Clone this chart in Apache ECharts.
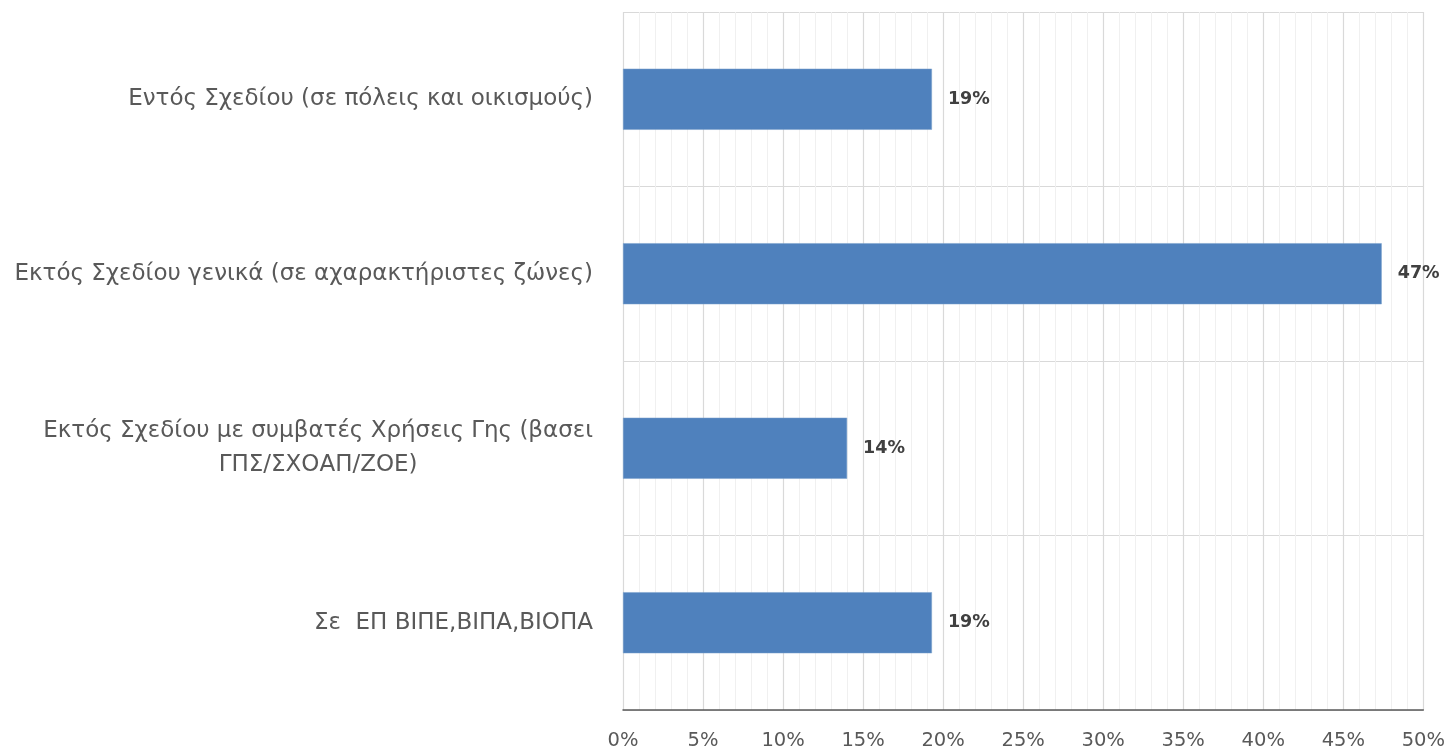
<!DOCTYPE html>
<html>
<head>
<meta charset="utf-8">
<script src="https://cdn.jsdelivr.net/npm/echarts@6/dist/echarts.min.js"></script>
<style>
html,body{margin:0;padding:0;background:#fff;}
#chart{width:1448px;height:751px;}
</style>
</head>
<body>
<div id="chart"></div>
<script>
// Categories (top to bottom) and their shares
const categories = [
  'Εντός Σχεδίου (σε πόλεις και οικισμούς)',
  'Εκτός Σχεδίου γενικά (σε αχαρακτήριστες ζώνες)',
  'Εκτός Σχεδίου με συμβατές Χρήσεις Γης (βασει\nΓΠΣ/ΣΧΟΑΠ/ΖΟΕ)',
  'Σε  ΕΠ ΒΙΠΕ,ΒΙΠΑ,ΒΙΟΠΑ'
];
const shares = [0.193, 0.474, 0.140, 0.193];
const axisMax = 0.5;
const axisStep = 0.05;

const FONT = '"DejaVu Sans", "Open Sans", sans-serif';
const chart = echarts.init(document.getElementById('chart'));

chart.setOption({
  animation: false,
  grid: { left: 623, right: 22, top: 12, bottom: 40, containLabel: false },
  xAxis: {
    type: 'value',
    min: 0,
    max: axisMax,
    interval: axisStep,
    axisLine: { show: true, lineStyle: { color: '#595959', width: 1.5 } },
    axisTick: { show: false },
    axisLabel: {
      formatter: v => Math.round(v * 100) + '%',
      color: '#595959',
      fontFamily: FONT,
      fontSize: 19.5,
      margin: 21
    },
    splitLine: { show: true, lineStyle: { color: '#D9D9D9', width: 1.2 } },
    minorTick: { show: false, splitNumber: 5 },
    minorSplitLine: { show: true, lineStyle: { color: '#F0F0F0', width: 1 } }
  },
  yAxis: {
    type: 'category',
    inverse: true,
    data: categories,
    axisLine: { show: false },
    axisTick: { show: false },
    splitLine: { show: true, lineStyle: { color: '#D9D9D9', width: 1.2 } },
    axisLabel: {
      color: '#595959',
      fontFamily: FONT,
      fontSize: 23,
      lineHeight: 34,
      margin: 30,
      formatter: v => v.split('\n').map(s => '{c|' + s + '}').join('\n'),
      rich: { c: { align: 'center', color: '#595959', fontFamily: FONT, fontSize: 23, lineHeight: 34 } }
    }
  },
  series: [{
    type: 'bar',
    data: shares,
    barWidth: '35%',
    itemStyle: { color: '#4F81BD', borderColor: '#7BA0CD', borderWidth: 0.5 },
    label: {
      show: true,
      position: 'right',
      distance: 16,
      formatter: p => Math.round(p.value * 100) + '%',
      color: '#404040',
      fontFamily: FONT,
      fontSize: 17.5,
      fontWeight: 'bold'
    }
  }]
});
</script>
</body>
</html>
